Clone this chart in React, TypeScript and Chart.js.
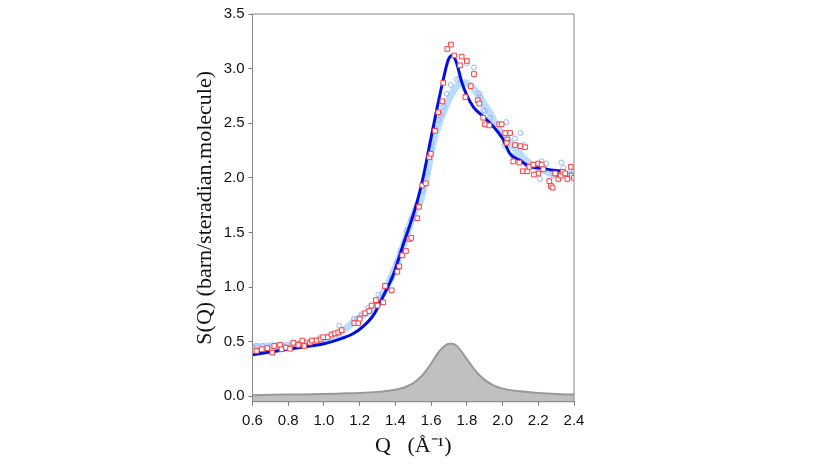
import { useEffect, useRef } from 'react';
import Chart from 'chart.js/auto';

// tick positions
const xTicks = [0.6, 0.8, 1.0, 1.2, 1.4, 1.6, 1.8, 2.0, 2.2, 2.4];
const yTicks = [0.0, 0.5, 1.0, 1.5, 2.0, 2.5, 3.0, 3.5];

// model curve (dark blue)
const modelQ = [0.6, 0.7, 0.8, 0.9, 1.0, 1.1, 1.16, 1.22, 1.28, 1.33, 1.39, 1.44, 1.49, 1.52, 1.556, 1.594, 1.631, 1.668, 1.696, 1.719, 1.743, 1.771, 1.799, 1.836, 1.892, 1.948, 2.0, 2.042, 2.098, 2.154, 2.21, 2.284, 2.345];
const modelS = [0.38, 0.405, 0.43, 0.455, 0.48, 0.53, 0.57, 0.64, 0.75, 0.91, 1.12, 1.37, 1.61, 1.77, 2.01, 2.32, 2.62, 2.9, 3.08, 3.12, 3.05, 2.88, 2.76, 2.65, 2.56, 2.47, 2.36, 2.22, 2.16, 2.1, 2.09, 2.07, 2.06];

// fit curve (light blue)
const fitQ = [0.6, 0.7, 0.8, 0.9, 1.0, 1.09, 1.18, 1.28, 1.35, 1.41, 1.46, 1.51, 1.54, 1.575, 1.612, 1.659, 1.706, 1.752, 1.79, 1.836, 1.883, 1.93, 1.976, 2.004, 2.079, 2.154, 2.228, 2.303, 2.4];
const fitS = [0.45, 0.46, 0.47, 0.49, 0.52, 0.58, 0.7, 0.82, 1.0, 1.22, 1.46, 1.7, 1.79, 2.01, 2.32, 2.56, 2.74, 2.85, 2.87, 2.82, 2.71, 2.59, 2.45, 2.4, 2.25, 2.13, 2.07, 2.03, 2.03];

// measured data, red squares
const squareQ = [0.623, 0.652, 0.683, 0.711, 0.722, 0.754, 0.763, 0.788, 0.81, 0.829, 0.857, 0.879, 0.89, 0.922, 0.933, 0.959, 0.982, 0.996, 1.021, 1.043, 1.062, 1.08, 1.099, 1.17, 1.192, 1.2, 1.23, 1.254, 1.267, 1.291, 1.3, 1.332, 1.342, 1.379, 1.411, 1.422, 1.439, 1.459, 1.478, 1.489, 1.523, 1.532, 1.551, 1.571, 1.59, 1.598, 1.622, 1.64, 1.663, 1.668, 1.691, 1.711, 1.73, 1.762, 1.771, 1.8, 1.84, 1.822, 1.792, 1.861, 1.87, 1.892, 1.902, 1.926, 1.982, 1.995, 2.014, 2.042, 2.027, 2.023, 2.07, 2.1, 2.126, 2.06, 2.094, 2.113, 2.139, 2.15, 2.172, 2.2, 2.219, 2.228, 2.2, 2.176, 2.262, 2.271, 2.28, 2.294, 2.312, 2.326, 2.337, 2.35, 2.363, 2.382, 2.387, 2.4];
const squareS = [0.415, 0.43, 0.44, 0.4, 0.46, 0.47, 0.43, 0.445, 0.435, 0.49, 0.47, 0.51, 0.46, 0.49, 0.51, 0.51, 0.52, 0.54, 0.54, 0.565, 0.575, 0.585, 0.605, 0.67, 0.67, 0.71, 0.76, 0.78, 0.83, 0.88, 0.83, 0.86, 1.01, 0.97, 1.14, 1.19, 1.29, 1.33, 1.44, 1.45, 1.63, 1.735, 1.93, 1.95, 2.19, 2.22, 2.43, 2.6, 2.7, 2.87, 3.18, 3.22, 3.12, 3.03, 3.11, 3.07, 2.95, 2.84, 2.74, 2.71, 2.68, 2.55, 2.49, 2.48, 2.49, 2.49, 2.41, 2.41, 2.35, 2.32, 2.3, 2.29, 2.28, 2.15, 2.14, 2.06, 2.06, 2.1, 2.12, 2.13, 2.12, 2.08, 2.04, 2.03, 1.97, 1.925, 1.91, 2.04, 1.99, 2.02, 2.055, 2.04, 1.99, 2.1, 2.02, 2.0];

// measured data, light blue circles
const circleQ = [0.605, 0.62, 0.657, 0.7, 0.74, 0.78, 0.82, 0.86, 0.9, 0.94, 0.978, 1.02, 1.05, 1.086, 1.168, 1.211, 1.248, 1.295, 1.305, 1.35, 1.379, 1.407, 1.43, 1.463, 1.49, 1.52, 1.55, 1.575, 1.598, 1.603, 1.622, 1.64, 1.654, 1.668, 1.687, 1.71, 1.743, 1.758, 1.8, 1.84, 1.874, 1.87, 1.892, 1.9, 1.93, 2.01, 2.014, 2.02, 2.057, 2.07, 2.1, 2.12, 2.139, 2.21, 2.219, 2.243, 2.284, 2.33, 2.34, 2.378, 2.395];
const circleS = [0.45, 0.46, 0.46, 0.455, 0.46, 0.455, 0.47, 0.48, 0.49, 0.51, 0.54, 0.55, 0.57, 0.645, 0.71, 0.75, 0.81, 0.86, 0.93, 0.99, 1.08, 1.22, 1.33, 1.52, 1.62, 1.75, 1.88, 2.05, 2.27, 2.32, 2.45, 2.53, 2.58, 2.65, 2.77, 2.85, 2.9, 2.91, 3.05, 3.01, 2.74, 2.77, 2.62, 2.61, 2.55, 2.3, 2.32, 2.51, 2.2, 2.36, 2.41, 2.3, 2.11, 1.99, 2.15, 2.13, 2.02, 2.14, 2.09, 2.03, 2.05];

// gray peak at the bottom
const peakQ = [0.6, 0.8, 1.0, 1.1, 1.2, 1.3, 1.4, 1.45, 1.5, 1.55, 1.6, 1.65, 1.7, 1.72, 1.75, 1.8, 1.85, 1.9, 1.95, 2.0, 2.1, 2.2, 2.3, 2.4];
const peakS = [0.01, 0.015, 0.02, 0.025, 0.03, 0.04, 0.06, 0.08, 0.12, 0.19, 0.3, 0.42, 0.48, 0.48, 0.45, 0.34, 0.23, 0.15, 0.1, 0.07, 0.045, 0.03, 0.02, 0.015];

const pts = (xs: number[], ys: number[]) => xs.map((x, i) => ({ x, y: ys[i] }));

const frame = {
  id: 'frame',
  afterDatasetsDraw(chart: any) {
    const { ctx, chartArea: a } = chart;
    ctx.save();
    ctx.strokeStyle = '#888';
    ctx.lineWidth = 1;
    ctx.strokeRect(a.left, a.top, a.right - a.left, a.bottom - a.top);
    ctx.restore();
  },
};

export default function App() {
  const canvasRef = useRef<HTMLCanvasElement | null>(null);

  useEffect(() => {
    document.body.style.margin = '0';
    const canvas = canvasRef.current;
    if (!canvas) return;

    const tickFont = { family: "'Liberation Sans', Arial, sans-serif", size: 15 };
    const titleFont = { family: "'Liberation Serif', 'Times New Roman', serif", size: 22 };

    const chart = new Chart(canvas, {
      type: 'scatter',
      data: {
        datasets: [
          {
            label: 'squares',
            data: pts(squareQ, squareS),
            pointStyle: 'rect',
            pointRadius: 3.3,
            borderColor: '#ff3b3b',
            backgroundColor: '#ffffff',
            borderWidth: 1,
            order: 0,
          },
          {
            label: 'model',
            data: pts(modelQ, modelS),
            showLine: true,
            pointRadius: 0,
            borderColor: '#0010e0',
            borderWidth: 3,
            cubicInterpolationMode: 'monotone',
            order: 1,
          },
          {
            label: 'circles',
            data: pts(circleQ, circleS),
            pointStyle: 'circle',
            pointRadius: 2.5,
            borderColor: '#9ab8f5',
            backgroundColor: 'rgba(255,255,255,0)',
            borderWidth: 1,
            order: 2,
          },
          {
            label: 'fit',
            data: pts(fitQ, fitS),
            showLine: true,
            pointRadius: 0,
            borderColor: '#bcdcfb',
            borderWidth: 7,
            cubicInterpolationMode: 'monotone',
            order: 3,
          },
          {
            label: 'peak',
            data: pts(peakQ, peakS),
            showLine: true,
            pointRadius: 0,
            borderColor: '#999999',
            borderWidth: 2,
            backgroundColor: '#c0c0c0',
            fill: 'start',
            cubicInterpolationMode: 'monotone',
            order: 4,
          },
        ],
      },
      options: {
        animation: false,
        responsive: false,
        maintainAspectRatio: false,
        layout: { padding: { left: 188, right: 256, top: 14, bottom: 4 } },
        plugins: {
          legend: { display: false },
          tooltip: { enabled: false },
        },
        scales: {
          x: {
            type: 'linear',
            min: 0.6,
            max: 2.4,
            afterBuildTicks: (scale: any) => {
              scale.ticks = xTicks.map((v) => ({ value: v }));
            },
            afterFit: (scale: any) => {
              scale.height = 61.3;
            },
            ticks: {
              font: tickFont,
              color: '#111',
              padding: 6,
              maxRotation: 0,
              autoSkip: false,
              callback: (v: any) => Number(v).toFixed(1),
            },
            grid: { drawOnChartArea: false, drawTicks: true, tickLength: 4, color: '#777' },
            border: { color: '#777' },
            title: { display: true, text: 'Q   (Å⁻¹)', font: titleFont, color: '#111' },
          },
          y: {
            type: 'linear',
            min: -0.05,
            max: 3.5,
            afterBuildTicks: (scale: any) => {
              scale.ticks = yTicks.map((v) => ({ value: v }));
            },
            afterFit: (scale: any) => {
              scale.width = 64.5;
            },
            ticks: {
              font: tickFont,
              color: '#111',
              padding: 4,
              autoSkip: false,
              callback: (v: any) => Number(v).toFixed(1),
            },
            grid: { drawOnChartArea: false, drawTicks: true, tickLength: 4, color: '#777' },
            border: { color: '#777' },
            title: {
              display: true,
              text: 'S(Q) (barn/steradian.molecule)',
              font: titleFont,
              color: '#111',
            },
          },
        },
      },
      plugins: [frame],
    } as any);

    return () => {
      chart.destroy();
    };
  }, []);

  return (
    <div style={{ width: 830, height: 467, background: '#fff' }}>
      <canvas ref={canvasRef} width={830} height={467} style={{ width: 830, height: 467 }} />
    </div>
  );
}
